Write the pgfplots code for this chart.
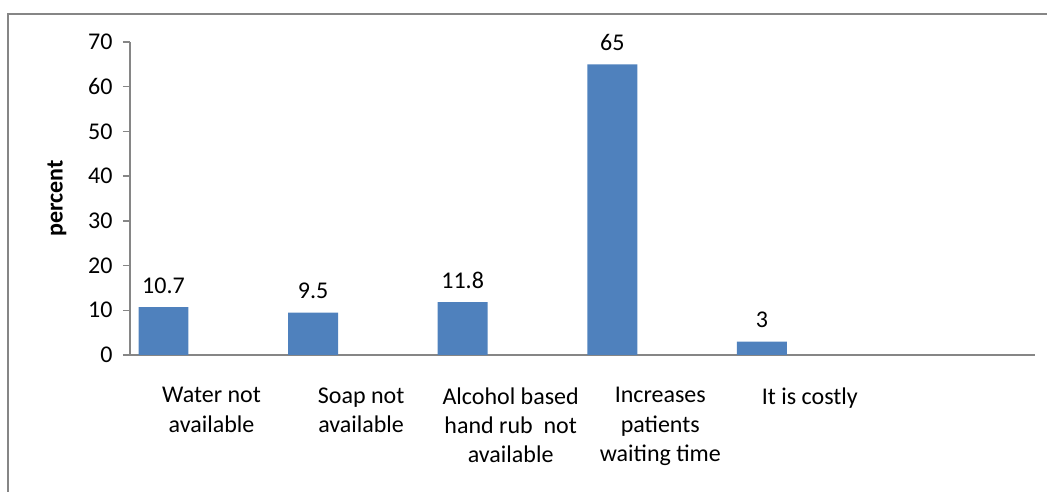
\documentclass[border=0pt]{standalone}
\usepackage{pgfplots}
\pgfplotsset{compat=1.18}
\usepackage{fontspec}
\setmainfont{Carlito}
\definecolor{barblue}{HTML}{4F81BD}
\definecolor{axgray}{HTML}{868686}
\begin{document}
\begin{tikzpicture}[x=1pt,y=1pt]
\path[use as bounding box] (0,0) rectangle (1047,492);
\draw[axgray,line width=1.5pt] (8,0) -- (8,478) -- (1047,478);
\begin{axis}[
  at={(130pt,137pt)}, anchor=south west,
  scale only axis, width=905pt, height=313pt,
  xmin=-0.5, xmax=5.55, ymin=0, ymax=70,
  axis x line*=bottom, axis y line*=left,
  axis line style={draw=axgray, line width=1.3pt},
  ytick={0,10,...,70},
  tick align=outside, major tick length=7pt,
  ytick style={draw=axgray, line width=1.3pt},
  xtick style={draw=none},
  xtick={0.045,1.045,2.045,3.045,4.045},
  xticklabels={Water not\\available, Soap not\\available, Alcohol based\\hand rub\ \ not\\available, Increases\\patients\\waiting time, It is costly},
  xticklabel style={align=center, font=\fontsize{24}{29.3}\selectfont, yshift=-22pt},
  yticklabel style={font=\fontsize{24}{29.3}\selectfont, xshift=-7pt},
  /pgf/number format/assume math mode=true,
  ylabel={\textbf{percent}},
  ylabel style={at={(axis description cs:-0.0807,0.5)}, anchor=center, rotate=0, font=\fontsize{24}{29.3}\selectfont},
  ybar, bar width=0.334,
  nodes near coords,
  every node near coord/.append style={font=\fontsize{24}{29.3}\selectfont, yshift=10pt, color=black},
]
\addplot[fill=barblue, draw=none] coordinates {(-0.276,10.7) (0.724,9.5) (1.724,11.8) (2.724,65) (3.724,3)};
\end{axis}
\end{tikzpicture}
\end{document}
